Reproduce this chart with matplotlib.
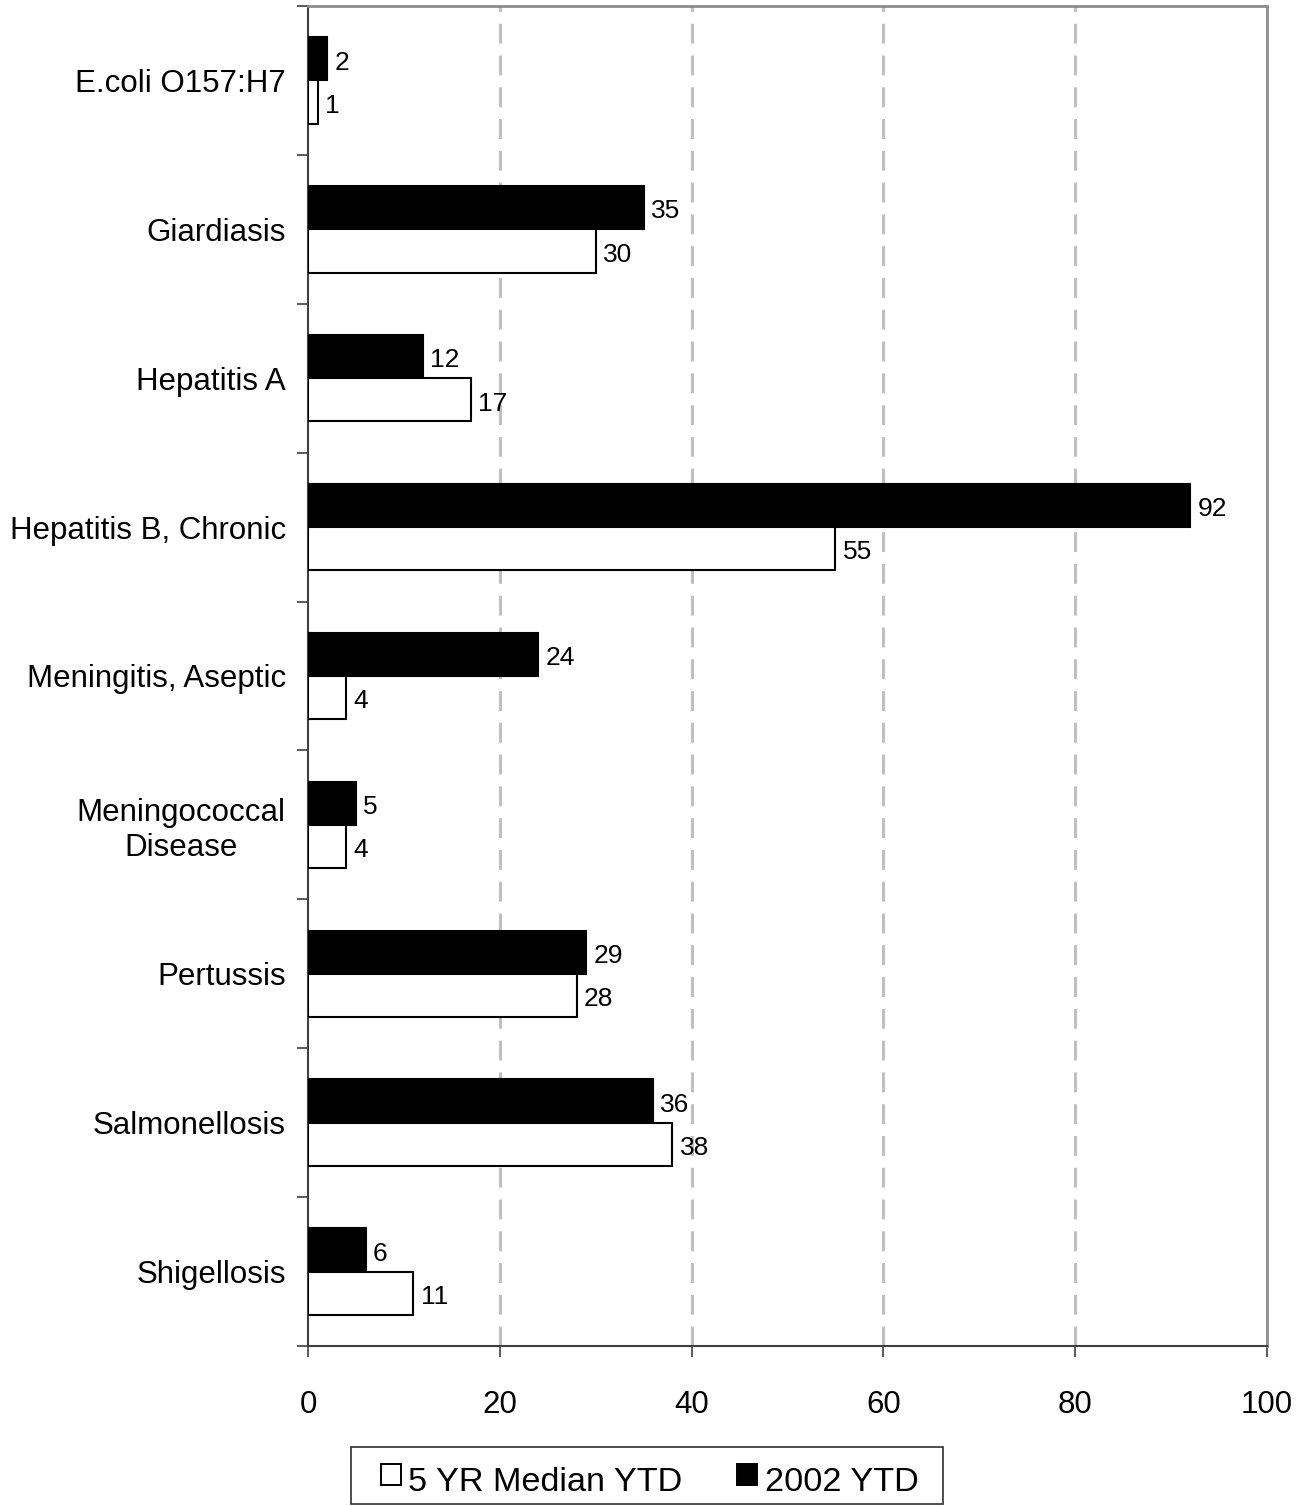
import matplotlib
matplotlib.use("Agg")
import matplotlib.pyplot as plt
from matplotlib.patches import Rectangle
from matplotlib import font_manager
import numpy as np

categories = ["E.coli O157:H7", "Giardiasis", "Hepatitis A", "Hepatitis B, Chronic",
              "Meningitis, Aseptic", "Meningococcal\nDisease", "Pertussis",
              "Salmonellosis", "Shigellosis"]
median_5yr = [1, 30, 17, 55, 4, 4, 28, 38, 11]
ytd_2002 = [2, 35, 12, 92, 24, 5, 29, 36, 6]
xticks = [0, 20, 40, 60, 80, 100]
legend_labels = ["5 YR Median YTD", "2002 YTD"]

names = {f.name for f in font_manager.fontManager.ttflist}
REG = "Liberation Sans" if "Liberation Sans" in names else "DejaVu Sans"
NARROW = "Liberation Sans Narrow" if "Liberation Sans Narrow" in names else None

plt.rcParams['font.family'] = [REG, 'DejaVu Sans']

W, H = 1308, 1506
fig = plt.figure(figsize=(W / 100, H / 100), dpi=100)
ax = fig.add_axes([308/W, 1 - 1346/H, (1267-308)/W, (1346-6)/H])

n = len(categories)
centers = np.arange(n) + 0.5
h = 0.29

ax.barh(centers - h/2, ytd_2002, height=h, color="black", edgecolor="black", linewidth=1.5, zorder=3)
ax.barh(centers + h/2, median_5yr, height=h, color="white", edgecolor="black", linewidth=1.5, zorder=3)

vfs = 19
for c, v in zip(centers, ytd_2002):
    ax.text(v + 0.75, c - h/2 + 0.025, str(v), va="center", ha="left", fontsize=vfs, zorder=4)
for c, v in zip(centers, median_5yr):
    ax.text(v + 0.75, c + h/2 + 0.025, str(v), va="center", ha="left", fontsize=vfs, zorder=4)

ax.set_xlim(0, 100)
ax.set_ylim(n, 0)
ax.set_xticks(xticks)
ax.set_xticklabels([str(t) for t in xticks], fontsize=22.5)
ax.tick_params(axis="x", direction="out", length=8, width=1.2, color="#404040", pad=24)

ax.set_yticks(centers)
ax.set_yticklabels(categories, fontsize=22.5, multialignment="center")
ax.tick_params(axis="y", which="major", length=0, pad=16)
ax.set_yticks(np.arange(n + 1), minor=True)
ax.tick_params(axis="y", which="minor", direction="out", length=8, width=1.2, color="#404040")

for g in [20, 40, 60, 80]:
    ax.axvline(g, color="#c0c0c0", linestyle=(0, (6.5, 3.9)), linewidth=2.2, zorder=1)

ax.spines["left"].set_color("#404040")
ax.spines["bottom"].set_color("#404040")
ax.spines["left"].set_linewidth(1.5)
ax.spines["bottom"].set_linewidth(1.5)
ax.spines["top"].set_color("#8c8c8c")
ax.spines["right"].set_color("#8c8c8c")
ax.spines["top"].set_linewidth(2)
ax.spines["right"].set_linewidth(2)

# legend drawn as a framed box with swatches and text (figure pixel layout)
def fx(x):
    return x / W

def fy(y):
    return 1 - y / H

fig.add_artist(Rectangle((fx(351), fy(1504)), fx(943) - fx(351), fy(1447) - fy(1504),
                         transform=fig.transFigure, facecolor="white", edgecolor="#303030",
                         linewidth=1.2))
fig.add_artist(Rectangle((fx(381), fy(1485)), fx(401) - fx(381), fy(1464) - fy(1485),
                         transform=fig.transFigure, facecolor="white", edgecolor="black",
                         linewidth=1.4))
fig.add_artist(Rectangle((fx(737), fy(1485)), fx(757) - fx(737), fy(1464) - fy(1485),
                         transform=fig.transFigure, facecolor="black", edgecolor="black",
                         linewidth=1.4))
if NARROW:
    lkw = {"family": [NARROW, 'DejaVu Sans'], "fontsize": 30}
else:
    lkw = {"fontsize": 24.7}
fig.text(fx(408), fy(1491), legend_labels[0], ha="left", va="baseline", **lkw)
fig.text(fx(765), fy(1491), legend_labels[1], ha="left", va="baseline", **lkw)

fig.savefig("out.png", dpi=100)
